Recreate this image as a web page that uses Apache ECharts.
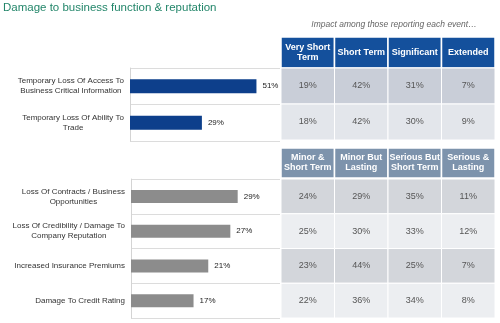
<!DOCTYPE html>
<html>
<head>
<meta charset="utf-8">
<script src="https://cdn.jsdelivr.net/npm/echarts@6/dist/echarts.min.js"></script>
<style>
html,body{margin:0;padding:0;background:#fff;}
#chart{width:500px;height:323px;}
</style>
</head>
<body>
<div id="chart"></div>
<script>
// ---- data ----
const titleText = 'Damage to business function & reputation';
const subtitleText = 'Impact among those reporting each event\u2026';

const topCategories = ['Temporary Loss Of Access To\nBusiness Critical Information', 'Temporary Loss Of Ability To\nTrade'];
const topValues = [51, 29];
const topColumns = ['Very Short\nTerm', 'Short Term', 'Significant', 'Extended'];
const topTable = [[19, 42, 31, 7], [18, 42, 30, 9]];

const bottomCategories = ['Loss Of Contracts / Business\nOpportunities', 'Loss Of Credibility / Damage To\nCompany Reputation', 'Increased Insurance Premiums', 'Damage To Credit Rating'];
const bottomValues = [29, 27, 21, 17];
const bottomColumns = ['Minor &\nShort Term', 'Minor But\nLasting', 'Serious But\nShort Term', 'Serious &\nLasting'];
const bottomTable = [[24, 29, 35, 11], [25, 30, 33, 12], [23, 44, 25, 7], [22, 36, 34, 8]];

// ---- styling ----
const FONT = 'Liberation Sans, Arial, sans-serif';
const colIdx = [0, 1, 2, 3];

function cellSeries(name, xi, yi, cells, opts) {
  return {
    type: 'custom', name: name, xAxisIndex: xi, yAxisIndex: yi, silent: true,
    data: cells,
    renderItem: function (params, api) {
      const c = api.coord([api.value(0), api.value(1)]);
      const s = api.size([1, 1]);
      const row = api.value(1);
      const text = opts.text(api.value(0), row);
      return {
        type: 'rect',
        shape: { x: c[0] - s[0] / 2, y: c[1] - s[1] / 2, width: s[0], height: s[1] },
        style: { fill: opts.fill(row), stroke: '#ffffff', lineWidth: opts.border },
        textContent: {
          style: { text: text, fill: opts.textColor, font: opts.font, align: 'center', verticalAlign: 'middle', lineHeight: opts.lineHeight }
        },
        textConfig: { position: 'inside' }
      };
    }
  };
}

function tableCells(rows) {
  const out = [];
  rows.forEach(function (r, ri) { r.forEach(function (v, ci) { out.push([ci, ri, v]); }); });
  return out;
}
function headerCells(cols) { return cols.map(function (c, ci) { return [ci, 0, ci]; }); }

const hiddenCatX = { type: 'category', data: colIdx, show: false };
function hiddenCatY(n) { const d = []; for (let i = 0; i < n; i++) d.push(i); return { type: 'category', data: d, inverse: true, show: false }; }

function barYAxis(gi, cats) {
  return {
    type: 'category', gridIndex: gi, data: cats, inverse: true,
    axisLine: { show: true, lineStyle: { color: '#d4d4d4', width: 1 } },
    axisTick: { show: false },
    splitLine: { show: true, lineStyle: { color: '#dcdcdc', width: 1 } },
    axisLabel: {
      margin: 6, color: '#333', fontFamily: FONT, fontSize: 8, lineHeight: 10,
      formatter: function (v) { return v.split('\n').map(function (l) { return '{a|' + l + '}'; }).join('\n'); },
      rich: { a: { align: 'center', fontFamily: FONT, fontSize: 8, lineHeight: 10, color: '#333' } }
    }
  };
}
function barXAxis(gi, max) {
  return { type: 'value', gridIndex: gi, min: 0, max: max, show: false, splitLine: { show: false } };
}
function barSeries(xi, yi, vals, color, bw) {
  return {
    type: 'bar', xAxisIndex: xi, yAxisIndex: yi, data: vals, barWidth: bw, silent: true,
    itemStyle: { color: color },
    label: { show: true, position: 'right', distance: 6, formatter: '{c}%', color: '#222', fontFamily: FONT, fontSize: 8 }
  };
}

const chart = echarts.init(document.getElementById('chart'), null, { renderer: 'canvas' });
chart.setOption({
  animation: false,
  backgroundColor: '#ffffff',
  title: [
    { text: titleText, left: 3, top: 2, padding: 0, textStyle: { color: '#23866a', fontFamily: FONT, fontSize: 11.5, fontWeight: 'normal' } },
    { text: subtitleText, left: 394, top: 20, padding: 0, textAlign: 'center', textStyle: { color: '#666', fontFamily: FONT, fontSize: 8.5, fontStyle: 'italic', fontWeight: 'normal' } }
  ],
  grid: [
    { left: 130, top: 68, width: 150, height: 73 },   // 0 top bars
    { left: 131, top: 179, width: 149, height: 139 }, // 1 bottom bars
    { left: 281, top: 37, width: 214, height: 31 },   // 2 top header
    { left: 281, top: 68, width: 214, height: 72 },   // 3 top table
    { left: 281, top: 148, width: 214, height: 30 },  // 4 bottom header
    { left: 281, top: 179, width: 214, height: 139 }  // 5 bottom table
  ],
  xAxis: [
    barXAxis(0, 60.5),
    barXAxis(1, 40.5),
    Object.assign({ gridIndex: 2 }, hiddenCatX),
    Object.assign({ gridIndex: 3 }, hiddenCatX),
    Object.assign({ gridIndex: 4 }, hiddenCatX),
    Object.assign({ gridIndex: 5 }, hiddenCatX)
  ],
  yAxis: [
    barYAxis(0, topCategories),
    barYAxis(1, bottomCategories),
    Object.assign({ gridIndex: 2 }, hiddenCatY(1)),
    Object.assign({ gridIndex: 3 }, hiddenCatY(topTable.length)),
    Object.assign({ gridIndex: 4 }, hiddenCatY(1)),
    Object.assign({ gridIndex: 5 }, hiddenCatY(bottomTable.length))
  ],
  series: [
    barSeries(0, 0, topValues, '#0d3f8b', 14),
    barSeries(1, 1, bottomValues, '#8c8c8c', 13),
    cellSeries('topHeader', 2, 2, headerCells(topColumns), {
      fill: function () { return '#14509c'; }, border: 1.5,
      text: function (c) { return topColumns[c]; }, textColor: '#ffffff', font: 'bold 9px ' + FONT, lineHeight: 10
    }),
    cellSeries('topTable', 3, 3, tableCells(topTable), {
      fill: function (r) { return r % 2 === 0 ? '#c9ced8' : '#e3e6eb'; }, border: 1,
      text: function (c, r) { return topTable[r][c] + '%'; }, textColor: '#555', font: '9px ' + FONT, lineHeight: 10
    }),
    cellSeries('bottomHeader', 4, 4, headerCells(bottomColumns), {
      fill: function () { return '#7d93ac'; }, border: 1.5,
      text: function (c) { return bottomColumns[c]; }, textColor: '#ffffff', font: 'bold 9px ' + FONT, lineHeight: 10
    }),
    cellSeries('bottomTable', 5, 5, tableCells(bottomTable), {
      fill: function (r) { return r % 2 === 0 ? '#d3d6db' : '#eceef1'; }, border: 1,
      text: function (c, r) { return bottomTable[r][c] + '%'; }, textColor: '#555', font: '9px ' + FONT, lineHeight: 10
    })
  ]
});
</script>
</body>
</html>
